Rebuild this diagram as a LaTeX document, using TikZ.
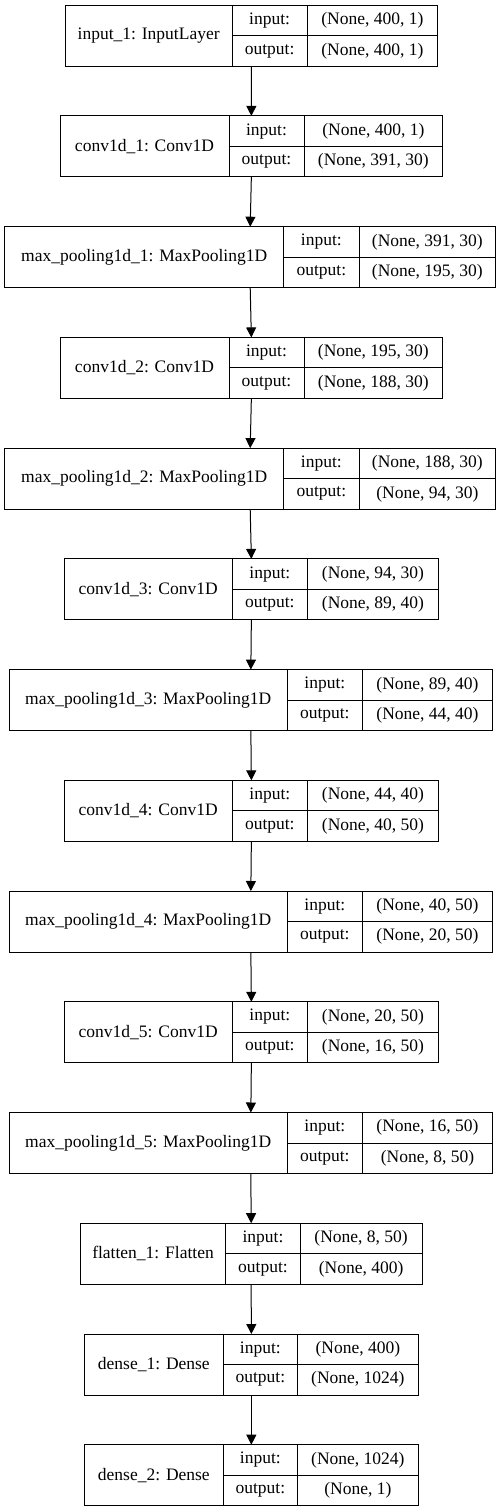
\documentclass[tikz,border=0pt]{standalone}
\usepackage{fontspec}
\setmainfont{Liberation Serif}
\usetikzlibrary{arrows.meta}
\tikzset{
  cell/.style={draw=black, line width=1bp, inner sep=0pt, outer sep=0pt, anchor=north west,
    font=\fontsize{17.5bp}{20bp}\selectfont},
  frame/.style={inner sep=0pt, outer sep=0pt, anchor=north west},
  flow/.style={draw=black, line width=1bp, -{Triangle[length=10bp,width=10bp]}}
}
% id, label, in, out, L, D1, D2, R, top
\newcommand\kerasLayer[9]{%
  \pgfmathsetmacro\wA{#6-#5}%
  \pgfmathsetmacro\wB{#7-#6}%
  \pgfmathsetmacro\wC{#8-#7}%
  \pgfmathsetmacro\wT{#8-#5}%
  \pgfmathsetmacro\yM{#9+30.5}%
  \node[frame, minimum width=\wT bp, minimum height=61bp] (#1) at (#5,#9) {};
  \node[cell, minimum width=\wA bp, minimum height=61bp] (#1-name) at (#5,#9) {#2};
  \node[cell, minimum width=\wB bp, minimum height=30.5bp] (#1-inl) at (#6,#9) {input:};
  \node[cell, minimum width=\wB bp, minimum height=30.5bp] (#1-outl) at (#6,\yM) {output:};
  \node[cell, minimum width=\wC bp, minimum height=30.5bp] (#1-inv) at (#7,#9) {#3};
  \node[cell, minimum width=\wC bp, minimum height=30.5bp] (#1-outv) at (#7,\yM) {#4};
}
\begin{document}
\begin{tikzpicture}[x=1bp,y=-1bp]
\fill[white] (0,0) rectangle (503,1512);
\useasboundingbox (0,0) rectangle (503,1512);
\kerasLayer{l1}{input\_1: InputLayer}{(None, 400, 1)}{(None, 400, 1)}{65}{232.3}{307}{437.7}{5.2}
\kerasLayer{l2}{conv1d\_1: Conv1D}{(None, 400, 1)}{(None, 391, 30)}{60}{229}{304}{442.7}{115.9}
\kerasLayer{l3}{max\_pooling1d\_1: MaxPooling1D}{(None, 391, 30)}{(None, 195, 30)}{4.7}{283.7}{359}{495.7}{226.7}
\kerasLayer{l4}{conv1d\_2: Conv1D}{(None, 195, 30)}{(None, 188, 30)}{60}{229}{304}{442.7}{337.4}
\kerasLayer{l5}{max\_pooling1d\_2: MaxPooling1D}{(None, 188, 30)}{(None, 94, 30)}{4.7}{283.7}{359}{495.7}{448.1}
\kerasLayer{l6}{conv1d\_3: Conv1D}{(None, 94, 30)}{(None, 89, 40)}{64}{232.3}{307.3}{438.7}{558.9}
\kerasLayer{l7}{max\_pooling1d\_3: MaxPooling1D}{(None, 89, 40)}{(None, 44, 40)}{9}{287.3}{362.3}{492.7}{669.6}
\kerasLayer{l8}{conv1d\_4: Conv1D}{(None, 44, 40)}{(None, 40, 50)}{64}{232.3}{307.3}{438.7}{780.3}
\kerasLayer{l9}{max\_pooling1d\_4: MaxPooling1D}{(None, 40, 50)}{(None, 20, 50)}{9}{287.3}{362.3}{492.7}{891.0}
\kerasLayer{l10}{conv1d\_5: Conv1D}{(None, 20, 50)}{(None, 16, 50)}{64}{232.3}{307.3}{438.7}{1001.8}
\kerasLayer{l11}{max\_pooling1d\_5: MaxPooling1D}{(None, 16, 50)}{(None, 8, 50)}{9}{287.3}{362.3}{492.7}{1112.5}
\kerasLayer{l12}{flatten\_1: Flatten}{(None, 8, 50)}{(None, 400)}{80.3}{225.7}{300.3}{422}{1223.2}
\kerasLayer{l13}{dense\_1: Dense}{(None, 400)}{(None, 1024)}{84.7}{223}{297.7}{418}{1334.0}
\kerasLayer{l14}{dense\_2: Dense}{(None, 1024)}{(None, 1)}{84.7}{223}{297.7}{418}{1444.7}
\foreach \a/\b in {l1/l2,l2/l3,l3/l4,l4/l5,l5/l6,l6/l7,l7/l8,l8/l9,l9/l10,l10/l11,l11/l12,l12/l13,l13/l14}
  \draw[flow] (\a.south) -- (\b.north);
\end{tikzpicture}
\end{document}
